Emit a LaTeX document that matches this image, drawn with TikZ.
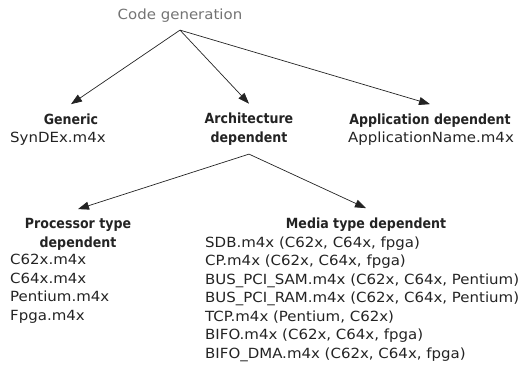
\documentclass[tikz,border=0pt]{standalone}
\usepackage{fontspec}
\setmainfont[FakeStretch=1.07]{DejaVu Sans}
\newfontfamily\headfont[FakeStretch=0.9]{DejaVu Sans}
\usetikzlibrary{arrows.meta}
\definecolor{titlegray}{RGB}{115,115,115}
\definecolor{inkgray}{RGB}{35,35,35}
\tikzset{
	gentitle/.style={text=titlegray,font=\fontsize{14}{18.5}\selectfont,inner ysep=8pt},
	headtxt/.style={text=inkgray,font=\headfont\bfseries\fontsize{14}{18.5}\selectfont,align=center,inner ysep=9pt},
	filelist/.style={text=inkgray,font=\fontsize{14}{18.5}\selectfont,align=left,inner xsep=0pt},
	link/.style={-{Triangle[length=11pt,width=8pt]},line width=0.7pt,inkgray}
}
\begin{document}
\begin{tikzpicture}[x=1pt,y=-1pt]
		\useasboundingbox (0,0) rectangle (524,367);

		% multi-line nodes sit on the baseline of their last line
		\node[gentitle,anchor=base] (gen) at (180,19) {Code generation};

		\node[headtxt,anchor=base] (generic) at (71,124) {Generic};
		\node[filelist,anchor=base west] (syndex) at (10,142) {SynDEx.m4x};

		\node[headtxt,anchor=base] (arch) at (249,142) {Architecture\\dependent};

		\node[headtxt,anchor=base] (appli) at (430,124) {Application dependent};
		\node[filelist,anchor=base west] (appname) at (348,142) {ApplicationName.m4x};

		\node[headtxt,anchor=base] (proc) at (78,247) {Processor type\\dependent};
		\node[filelist,anchor=base west] (proclist) at (10,320)
		{C62x.m4x\\C64x.m4x\\Pentium.m4x\\Fpga.m4x};

		\node[headtxt,anchor=base] (media) at (366,228) {Media type dependent};
		\node[filelist,anchor=base west] (medialist) at (205,358)
		{SDB.m4x (C62x, C64x, fpga)\\CP.m4x (C62x, C64x, fpga)\\
		BUS\_PCI\_SAM.m4x (C62x, C64x, Pentium)\\
		BUS\_PCI\_RAM.m4x (C62x, C64x, Pentium)\\
		TCP.m4x (Pentium, C62x)\\BIFO.m4x (C62x, C64x, fpga)\\
		BIFO\_DMA.m4x (C62x, C64x, fpga)};

		\draw[link] (gen.south) -- (generic.north);
		\draw[link] (gen.south) -- (arch.north);
		\draw[link] (gen.south) -- (appli.north);

		\draw[link] (arch.south) -- (proc.north);
		\draw[link] (arch.south) -- (media.north);
	\end{tikzpicture}
\end{document}
